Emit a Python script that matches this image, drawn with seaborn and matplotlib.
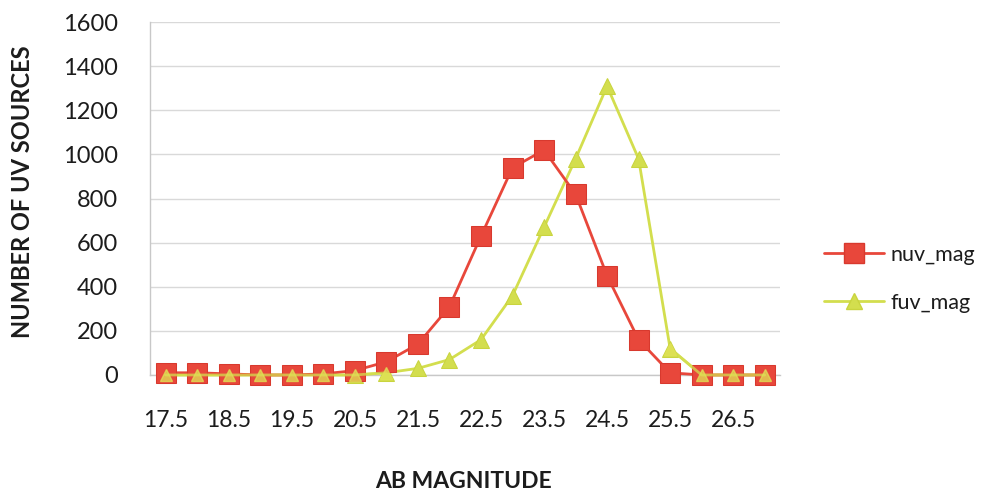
import numpy as np
import pandas as pd
import seaborn as sns
import matplotlib
matplotlib.use("Agg")
import matplotlib.pyplot as plt
from matplotlib.lines import Line2D

# AB magnitude bins and source counts per band
magnitudes = [17.5, 18.0, 18.5, 19.0, 19.5, 20.0, 20.5, 21.0, 21.5, 22.0,
              22.5, 23.0, 23.5, 24.0, 24.5, 25.0, 25.5, 26.0, 26.5, 27.0]
nuv_counts = [10, 10, 5, 0, 0, 5, 20, 60, 140, 310,
              630, 940, 1020, 820, 450, 160, 10, 0, 0, 0]
fuv_counts = [0, 0, 0, 0, 0, 0, 0, 10, 30, 70,
              160, 360, 670, 980, 1310, 980, 120, 0, 0, 0]
tick_labels = ["17.5", "18.5", "19.5", "20.5", "21.5",
               "22.5", "23.5", "24.5", "25.5", "26.5"]

sns.set_style("white")
plt.rcParams["font.family"] = ["Lato", "DejaVu Sans"]
text_color = "#1c1c1c"

idx = np.arange(len(magnitudes))
df = pd.DataFrame({"idx": np.concatenate([idx, idx]),
                   "count": nuv_counts + fuv_counts,
                   "band": ["nuv_mag"] * len(idx) + ["fuv_mag"] * len(idx)})

fig = plt.figure(figsize=(10.03, 5.04), dpi=100)
ax = fig.add_axes([0.1496, 0.256, 0.6285, 0.70])

nuv_color = "#E8473B"
nuv_edge = "#D8392E"
fuv_color = "#D3DE4E"
fuv_edge = "#C9D43E"

sns.lineplot(data=df[df.band == "fuv_mag"], x="idx", y="count", ax=ax,
             color=fuv_color, linewidth=2.0, marker="^", markersize=11,
             markerfacecolor=fuv_color, markeredgecolor=fuv_edge,
             clip_on=False, zorder=3)
sns.lineplot(data=df[df.band == "nuv_mag"], x="idx", y="count", ax=ax,
             color=nuv_color, linewidth=2.0, marker="s", markersize=14,
             markerfacecolor=nuv_color, markeredgecolor=nuv_edge,
             clip_on=False, zorder=4)
# faint-end and bright-end fuv points sit on top of the red squares
for sel in (df.idx >= 16, df.idx <= 7):
    part = df[(df.band == "fuv_mag") & sel]
    ax.plot(part["idx"], part["count"], color=fuv_color, linewidth=2.0,
            marker="^", markersize=8, markerfacecolor="#E0E255",
            markeredgecolor="#E0E255", alpha=0.75, clip_on=False, zorder=5)

ax.set_xlim(-0.5, len(idx) - 0.5)
ax.set_ylim(0, 1600)
ax.set_yticks(np.arange(0, 1601, 200))
ax.tick_params(axis="y", labelsize=17, length=4, color="#BBBBBB", pad=19,
               labelcolor=text_color)
ax.grid(axis="y", color="#D9D9D9", linewidth=1.0)

ax.set_xticks(idx[::2])
ax.set_xticklabels(tick_labels)
ax.set_xticks(idx[:-1] + 0.5, minor=True)
ax.tick_params(axis="x", which="major", length=0, pad=25, labelsize=16.5,
               labelcolor=text_color)
ax.tick_params(axis="x", which="minor", length=5, color="#BBBBBB")

for s in ["top", "right"]:
    ax.spines[s].set_visible(False)
for s in ["left", "bottom"]:
    ax.spines[s].set_color("#C8C8C8")
    ax.spines[s].set_linewidth(1.0)

ax.set_xlabel("")
ax.set_ylabel("")
fig.text(464 / 1003, 1 - 481 / 504, "AB MAGNITUDE", fontsize=16.5,
         fontweight="bold", color=text_color, ha="center", va="center")
fig.text(23 / 1003, 1 - 192 / 504, "NUMBER OF UV SOURCES", fontsize=17,
         fontweight="bold", color=text_color, rotation=90,
         ha="center", va="center")

handles = [
    Line2D([], [], color=nuv_color, linewidth=2.0, marker="s", markersize=14,
           markerfacecolor=nuv_color, markeredgecolor=nuv_edge),
    Line2D([], [], color=fuv_color, linewidth=2.0, marker="^", markersize=11,
           markerfacecolor=fuv_color, markeredgecolor=fuv_edge),
]
leg = fig.legend(handles, ["nuv_mag", "fuv_mag"], loc="center left",
                 bbox_to_anchor=(0.802, 1 - 279 / 504), frameon=False,
                 fontsize=15.5, handlelength=2.8, handletextpad=0.3,
                 labelspacing=1.3)
for t in leg.get_texts():
    t.set_color(text_color)

fig.savefig("out.png", dpi=100, facecolor="white")
